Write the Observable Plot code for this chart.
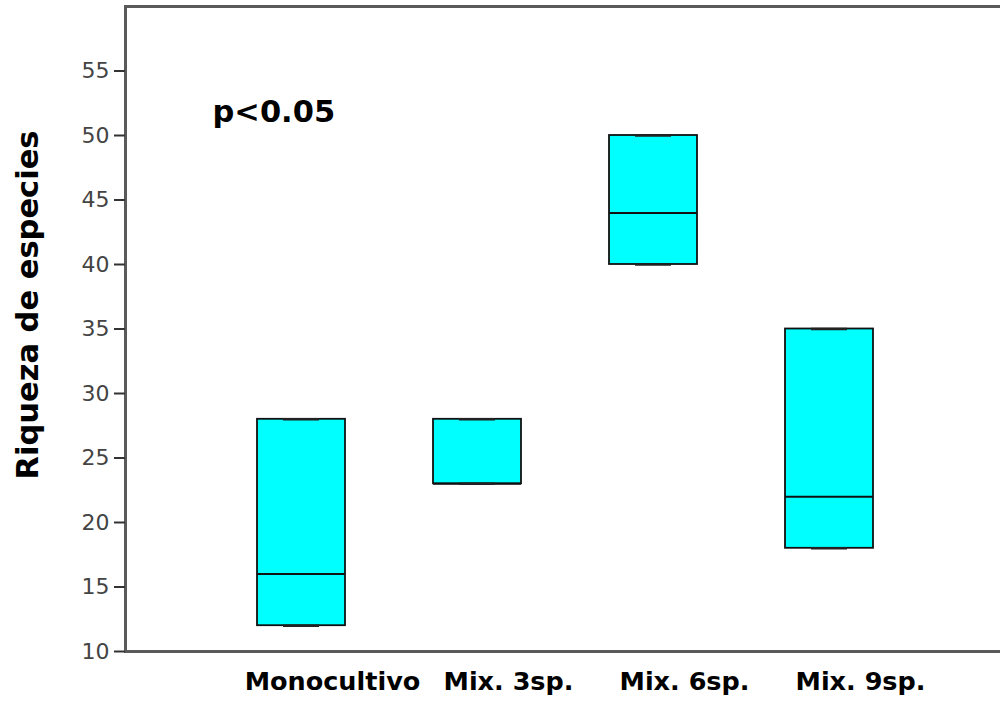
<!DOCTYPE html>
<html>
<head>
<meta charset="utf-8">
<script src="https://cdn.jsdelivr.net/npm/d3@7"></script>
<script src="https://cdn.jsdelivr.net/npm/@observablehq/plot@0.6"></script>
<style>
  html, body { margin: 0; padding: 0; background: #fff; overflow: hidden; }
</style>
</head>
<body>
<div id="chart"></div>
<script>
// Riqueza de especies por tipo de cultivo (resumen de caja)
const grupos   = ["Monocultivo", "Mix. 3sp.", "Mix. 6sp.", "Mix. 9sp."];
const minimos  = [12, 23, 40, 18];
const q1s      = [12, 23, 40, 18];
const medianas = [16, 23, 44, 22];
const q3s      = [28, 28, 50, 35];
const maximos  = [28, 28, 50, 35];
const ticksY   = [10, 15, 20, 25, 30, 35, 40, 45, 50, 55];
const etiquetaY = "Riqueza de especies";
const nota = "p<0.05";

const filas = grupos.map((g, i) => ({
  grupo: g, min: minimos[i], q1: q1s[i], mediana: medianas[i], q3: q3s[i], max: maximos[i]
}));

const ejeColor = "#5a5a5a";
const fuente = "DejaVu Sans";

const chart = Plot.plot({
  width: 1000,
  height: 703,
  marginTop: 6,
  marginBottom: 52,
  marginLeft: 125,
  marginRight: 0,
  style: { background: "#fff" },
  x: { type: "band", domain: grupos, range: [125, 1005], paddingInner: 0.5, paddingOuter: 0.75 },
  y: { domain: [10, 60] },
  marks: [
    Plot.frame({ anchor: "top", stroke: ejeColor, strokeWidth: 3 }),
    Plot.frame({ anchor: "left", stroke: ejeColor, strokeWidth: 3 }),
    Plot.frame({ anchor: "bottom", stroke: ejeColor, strokeWidth: 3 }),
    Plot.barY(filas, { x: "grupo", y1: "q1", y2: "q3", fill: "#00FFFF", stroke: "#111", strokeWidth: 1.8 }),
    Plot.tickY(filas, { x: "grupo", y: "mediana", stroke: "#111", strokeWidth: 2 }),
    Plot.tickY(filas, { x: "grupo", y: "min", stroke: "#222", strokeWidth: 2.5, insetLeft: 26, insetRight: 26 }),
    Plot.tickY(filas, { x: "grupo", y: "max", stroke: "#222", strokeWidth: 2.5, insetLeft: 26, insetRight: 26 }),
    Plot.axisY({
      ticks: ticksY, tickSize: 11, tickPadding: 5, label: null,
      fontSize: 22, fontFamily: fuente, fill: "#444", stroke: "#333", strokeWidth: 2
    }),
    Plot.axisX({
      tickSize: 0, tickPadding: 20, label: null, dx: 31,
      fontSize: 25.5, fontWeight: "bold", fontFamily: fuente, fill: "#000"
    }),
    Plot.text([nota], {
      x: () => grupos[0], y: () => 51.8, text: d => d, dx: -89, textAnchor: "start",
      fontSize: 30.5, fontWeight: "bold", fontFamily: fuente, fill: "#000"
    }),
    Plot.text([etiquetaY], {
      frameAnchor: "left", text: d => d, rotate: -90, dx: -97, dy: -24, textAnchor: "middle",
      fontSize: 30.5, fontWeight: "bold", fontFamily: fuente, fill: "#000"
    })
  ]
});

document.getElementById("chart").append(chart);
</script>
</body>
</html>
